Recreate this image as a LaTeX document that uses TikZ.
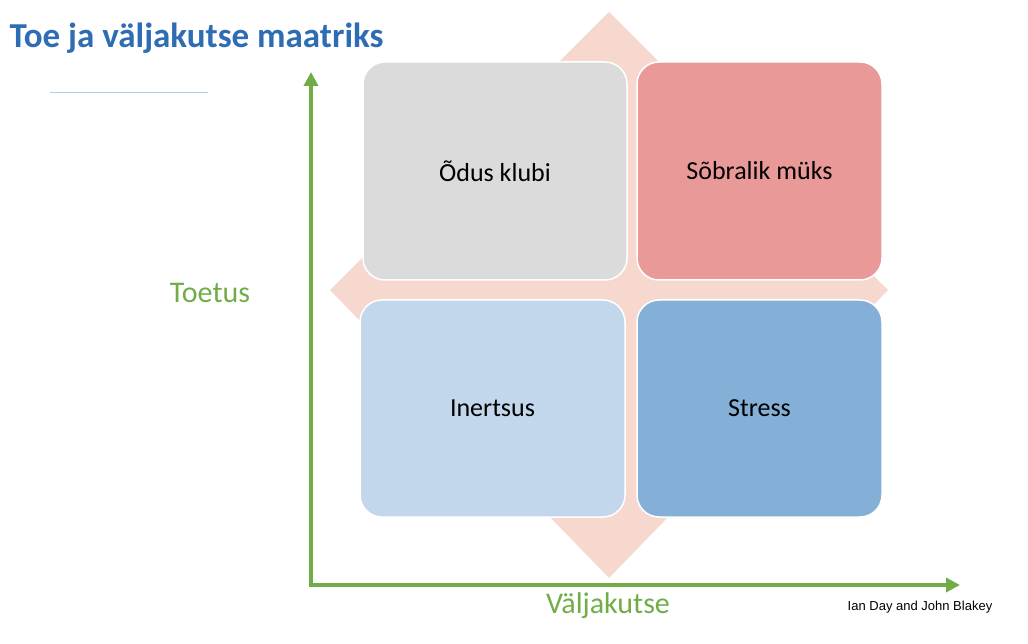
\documentclass[tikz,border=0pt]{standalone}
\usepackage{fontspec}
\setmainfont{Carlito}
\newfontfamily\arialf{Liberation Sans}
\usetikzlibrary{arrows.meta}
\definecolor{tblue}{HTML}{2E6DB4}
\definecolor{agreen}{HTML}{70AD47}
\definecolor{dpink}{HTML}{F6D8CF}
\tikzset{quad/.style={draw=white,line width=1.5pt,rounded corners=22pt,font=\fontsize{26}{30}\selectfont},
axis/.style={agreen,line width=4pt,-{Triangle[length=14pt,width=14pt]}}}
\begin{document}
\begin{tikzpicture}[x=1pt,y=-1pt]
\useasboundingbox (0,0) rectangle (1028,644);
\node[anchor=west,font=\bfseries\fontsize{35}{40}\selectfont,text=tblue] (title) at (6,38) {Toe ja väljakutse maatriks};
\draw[color=tblue!35,line width=0.8pt] (50,92) -- (208,92);
\fill[dpink] (609,12) -- (888,290) -- (609,578) -- (330,290) -- cycle;
\node[quad,fill=black!14,minimum width=264pt,minimum height=218pt] (a) at (495,171) {Õdus klubi};
\node[quad,fill=red!20!pink!60!red!45,fill={rgb,255:red,234;green,153;blue,153},minimum width=245pt,minimum height=218pt] (b) at (759.5,171) {Sõbralik müks};
\node[quad,fill={rgb,255:red,195;green,215;blue,236},minimum width=265pt,minimum height=217pt] (c) at (492.5,408.5) {Inertsus};
\node[quad,fill={rgb,255:red,132;green,175;blue,214},minimum width=245pt,minimum height=217pt] (d) at (759.5,408.5) {Stress};
\coordinate (o) at (311,585);
\coordinate (ytop) at (311,72);
\coordinate (xend) at (960,585);
\draw[axis] (o) ++(0,2) -- (ytop);
\draw[axis] (o) ++(-2,0) -- (xend);
\node[text=agreen,font=\fontsize{30}{34}\selectfont] (ty) at (210,293) {Toetus};
\node[text=agreen,font=\fontsize{30}{34}\selectfont] (tx) at (608,606) {Väljakutse};
\node[font=\arialf\fontsize{13}{15}\selectfont] (cr) at (920,607) {Ian Day and John Blakey};
\end{tikzpicture}
\end{document}
